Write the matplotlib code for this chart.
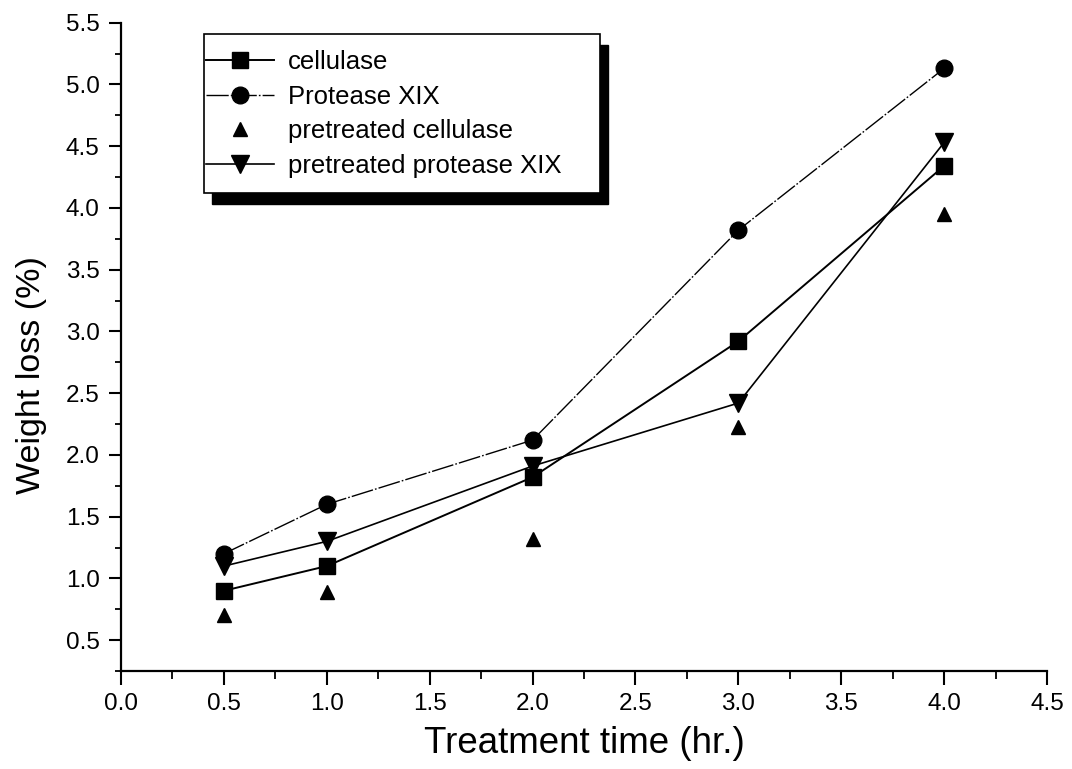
import matplotlib
matplotlib.use("Agg")
import matplotlib.pyplot as plt
from matplotlib.patches import Rectangle
from matplotlib.ticker import MultipleLocator, FormatStrFormatter

plt.rcParams['font.family'] = ['Liberation Sans', 'DejaVu Sans']

time_hr = [0.5, 1.0, 2.0, 3.0, 4.0]
cellulase = [0.90, 1.10, 1.82, 2.92, 4.34]
protease_xix = [1.20, 1.60, 2.12, 3.82, 5.13]
pretreated_cellulase = [0.70, 0.89, 1.32, 2.23, 3.95]
pretreated_protease_xix = [1.10, 1.30, 1.91, 2.42, 4.53]

fig = plt.figure(figsize=(10.72, 7.69), dpi=100)
ax = fig.add_axes([0.1129, 0.1274, 0.8638, 0.8431])

ax.plot(time_hr, cellulase, color='black', lw=1.4, marker='s', ms=11.5, label='cellulase', zorder=3)
ax.plot(time_hr, protease_xix, color='black', lw=1.0, ls=(0, (16, 1.5, 1.2, 1.5)),
        marker='o', ms=12, label='Protease XIX', zorder=3)
ax.plot(time_hr, pretreated_cellulase, color='black', lw=0, marker='^', ms=10.5,
        label='pretreated cellulase', zorder=3)
ax.plot(time_hr, pretreated_protease_xix, color='black', lw=1.2, marker='v', ms=13,
        label='pretreated protease XIX', zorder=3)

ax.set_xlim(0, 4.5)
ax.set_ylim(0.25, 5.5)
ax.xaxis.set_major_locator(MultipleLocator(0.5))
ax.xaxis.set_minor_locator(MultipleLocator(0.25))
ax.yaxis.set_minor_locator(MultipleLocator(0.25))
ax.xaxis.set_major_formatter(FormatStrFormatter('%.1f'))
ax.yaxis.set_major_formatter(FormatStrFormatter('%.1f'))
ax.set_yticks([0.5, 1.0, 1.5, 2.0, 2.5, 3.0, 3.5, 4.0, 4.5, 5.0, 5.5])

for s in ['top', 'right']:
    ax.spines[s].set_visible(False)
for s in ['left', 'bottom']:
    ax.spines[s].set_linewidth(1.6)

ax.tick_params(axis='both', which='major', direction='out', width=1.5, labelsize=17.5)
ax.tick_params(axis='x', which='major', length=10, pad=6)
ax.tick_params(axis='y', which='major', length=8.5, pad=7)
ax.tick_params(axis='x', which='minor', direction='out', length=6, width=1.3)
ax.tick_params(axis='y', which='minor', direction='out', length=4, width=1.3)

ax.set_xlabel('Treatment time (hr.)', fontsize=26.5, labelpad=8)
ax.set_ylabel('Weight loss (%)', fontsize=24.5)
ax.yaxis.set_label_coords(-0.080, 0.457)

# legend frame with solid drop shadow (axes coordinates)
lx0, lx1 = 0.0896, 0.5173
ly0, ly1 = 0.7373, 0.9826
dx, dy = 8 / 926, 11 / 648.3
ax.add_patch(Rectangle((lx0 + dx, ly0 - dy), lx1 - lx0, ly1 - ly0, transform=ax.transAxes,
                       facecolor='black', edgecolor='black', zorder=5, clip_on=False))
ax.add_patch(Rectangle((lx0, ly0), lx1 - lx0, ly1 - ly0, transform=ax.transAxes,
                       facecolor='white', edgecolor='black', lw=1.2, zorder=5.5, clip_on=False))

leg = ax.legend(loc='upper left', bbox_to_anchor=(lx0 + 0.002, ly1 - 0.025), fontsize=18.5,
                frameon=False, handlelength=2.65, handletextpad=0.55, labelspacing=0.41,
                borderpad=0.0, borderaxespad=0)
leg.set_zorder(6)

fig.savefig('out.png', dpi=100)
